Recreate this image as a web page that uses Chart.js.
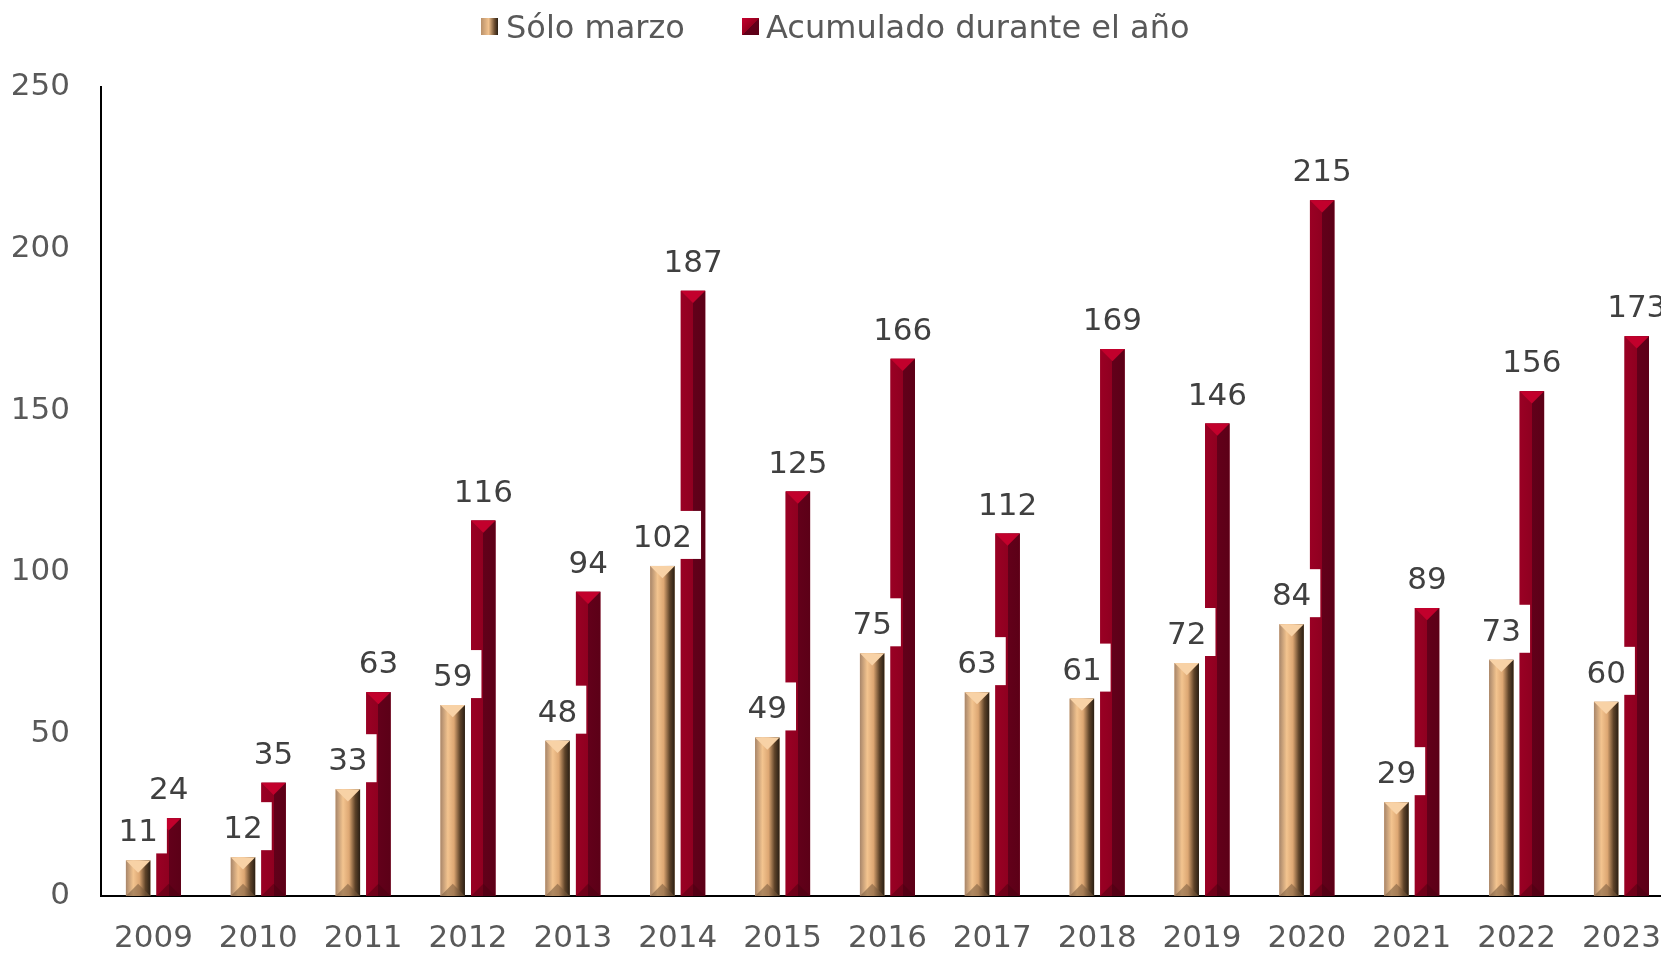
<!DOCTYPE html>
<html>
<head>
<meta charset="utf-8">
<script src="https://cdn.jsdelivr.net/npm/chart.js@4.4.1/dist/chart.umd.min.js"></script>
<style>
  html, body { margin: 0; padding: 0; background: #fff; overflow: hidden; }
  #wrap { position: relative; width: 1685px; height: 953px; }
  .lg { position: absolute; top: 11px; font: 32px 'DejaVu Sans', Verdana, sans-serif; color: #595959; line-height: 32px; white-space: nowrap; }
  .sw { position: absolute; top: 18px; width: 17px; height: 17px; }
</style>
</head>
<body>
<div id="wrap">
  <canvas id="chart"></canvas>
  <div class="sw" style="left:481px;background:linear-gradient(to right,#b8906a,#f2c28e 45%,#6a4c30 80%,#2a1f14);"></div>
  <div class="lg" style="left:506px;">Sólo marzo</div>
  <div class="sw" style="left:742px;background:linear-gradient(135deg,#c8002e 0%,#96001f 50%,#62001a 51%,#5a0016 100%);"></div>
  <div class="lg" style="left:766px;">Acumulado durante el año</div>
</div>
<script>
// ─── datos ───
var YEARS = ['2009','2010','2011','2012','2013','2014','2015','2016','2017','2018','2019','2020','2021','2022','2023'];
var SOLO_MARZO = [11, 12, 33, 59, 48, 102, 49, 75, 63, 61, 72, 84, 29, 73, 60];
var ACUMULADO = [24, 35, 63, 116, 94, 187, 125, 166, 112, 169, 146, 215, 89, 156, 173];
var Y_MIN = 0, Y_MAX = 250, Y_STEP = 50;

var FONT = "'DejaVu Sans', Verdana, sans-serif";

// relleno con bisel (imitando el estilo de Excel) + etiquetas con fondo blanco
var bevelPlugin = {
  id: 'bevel',
  afterDatasetsDraw: function (chart) {
    var ctx = chart.ctx;
    chart.data.datasets.forEach(function (ds, di) {
      var meta = chart.getDatasetMeta(di);
      meta.data.forEach(function (bar) {
        var w = bar.width, l = bar.x - w / 2, r = bar.x + w / 2, t = bar.y, b = bar.base;
        var g = ctx.createLinearGradient(l, 0, r, 0);
        ds.shade.forEach(function (s) { g.addColorStop(s[0], s[1]); });
        ctx.save();
        ctx.fillStyle = g;
        ctx.fillRect(l, t, w, b - t);
        var h = Math.min(w / 2, (b - t) / 2);
        ctx.fillStyle = ds.topColor;
        ctx.beginPath(); ctx.moveTo(l, t); ctx.lineTo(r, t); ctx.lineTo(bar.x, t + h); ctx.closePath(); ctx.fill();
        ctx.fillStyle = ds.bottomColor;
        ctx.beginPath(); ctx.moveTo(l, b); ctx.lineTo(r, b); ctx.lineTo(bar.x, b - h); ctx.closePath(); ctx.fill();
        ctx.restore();
      });
    });

    ctx.save();
    ctx.font = '31px ' + FONT;
    ctx.textAlign = 'center';
    ctx.textBaseline = 'alphabetic';
    chart.data.datasets.forEach(function (ds, di) {
      var meta = chart.getDatasetMeta(di);
      meta.data.forEach(function (bar, i) {
        var txt = String(ds.data[i]);
        var tw = ctx.measureText(txt).width;
        var base = bar.y - 19;
        ctx.fillStyle = '#ffffff';
        ctx.fillRect(bar.x - tw / 2 - 9, base - 36, tw + 18, 48);
        ctx.fillStyle = '#404040';
        ctx.fillText(txt, bar.x, base);
      });
    });
    ctx.restore();
  }
};

new Chart(document.getElementById('chart'), {
  type: 'bar',
  data: {
    labels: YEARS,
    datasets: [
      {
        label: 'Sólo marzo',
        data: SOLO_MARZO,
        backgroundColor: '#d9a470',
        shade: [[0, '#a8866a'], [0.3, '#f3c48f'], [0.55, '#dda773'], [0.8, '#5e4329'], [1, '#2a1f14']],
        topColor: '#f8d2a6',
        bottomColor: 'rgba(120,90,60,0.55)',
        barPercentage: 0.8,
        categoryPercentage: 0.583
      },
      {
        label: 'Acumulado durante el año',
        data: ACUMULADO,
        backgroundColor: '#8f0020',
        shade: [[0, '#9a0024'], [0.5, '#8f0020'], [0.5, '#62001a'], [1, '#5c0017']],
        topColor: '#c2002c',
        bottomColor: 'rgba(70,0,15,0.45)',
        barPercentage: 0.8,
        categoryPercentage: 0.583
      }
    ]
  },
  options: {
    responsive: true,
    maintainAspectRatio: false,
    animation: false,
    layout: { padding: { top: 87, right: 2.5, left: 0, bottom: 0 } },
    plugins: {
      legend: { display: false },
      tooltip: { enabled: false }
    },
    scales: {
      x: {
        grid: { display: false, drawTicks: false },
        border: { display: true, color: '#000000', width: 2 },
        ticks: { color: '#595959', font: { family: FONT, size: 31 }, padding: 24, maxRotation: 0 },
        afterFit: function (s) { s.height = 57; }
      },
      y: {
        min: Y_MIN,
        max: Y_MAX,
        grid: { display: false, drawTicks: false },
        border: { display: true, color: '#000000', width: 2 },
        ticks: { stepSize: Y_STEP, color: '#595959', font: { family: FONT, size: 31 }, padding: 31 },
        afterFit: function (s) { s.width = 101; }
      }
    }
  },
  plugins: [bevelPlugin]
});
</script>
</body>
</html>
